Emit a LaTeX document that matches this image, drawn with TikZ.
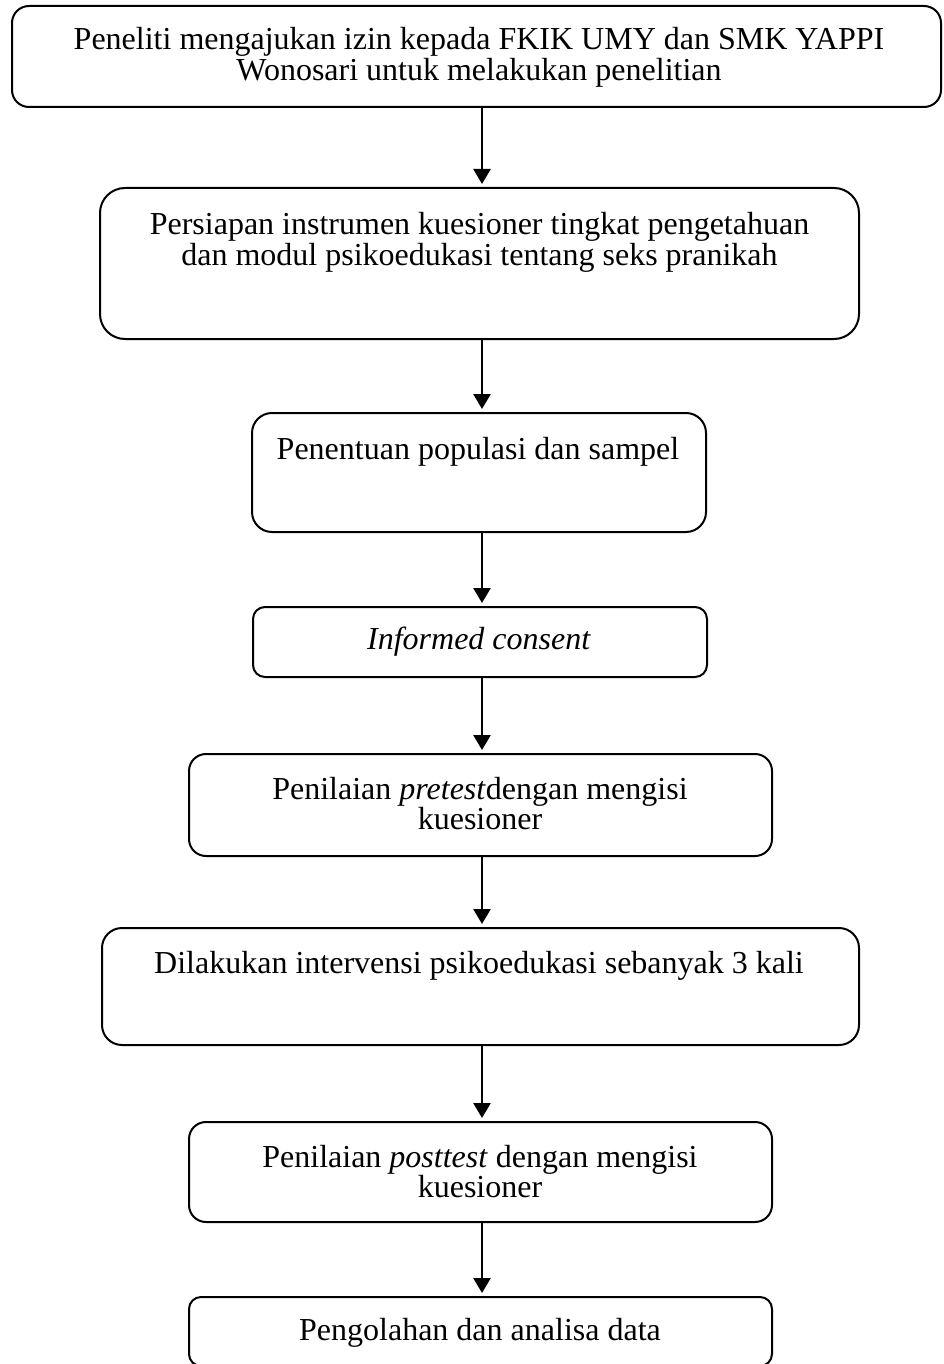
\documentclass[tikz,border=0pt]{standalone}
\usepackage{fontspec}
\setmainfont{Liberation Serif}
\usetikzlibrary{arrows.meta}
\tikzset{
  stepbox/.style={draw=black, line width=2pt, inner sep=0pt, fill=none},
  txt/.style={anchor=base, inner sep=0pt, font=\fontsize{32}{28.5}\selectfont},
  arr/.style={line width=2.6pt, shorten >=3pt, -{Triangle[length=15pt,width=17pt]}}
}
\newcommand{\twolines}[2]{\begin{tabular}[t]{@{}c@{}}#1\\#2\end{tabular}}
\begin{document}
\begin{tikzpicture}[x=1pt,y=-1pt]
\fill[white] (0,0) rectangle (943,1364);
\useasboundingbox (0,0) rectangle (943,1364);
\coordinate (ax) at (482,0);
% boxes
\node[stepbox, rounded corners=17pt, minimum width=929pt, minimum height=101pt] (b1) at (476.5,56.5) {};
\node[stepbox, rounded corners=25pt, minimum width=759pt, minimum height=151pt] (b2) at (479.5,263.5) {};
\node[stepbox, rounded corners=20pt, minimum width=454pt, minimum height=119pt] (b3) at (479,472.5) {};
\node[stepbox, rounded corners=12pt, minimum width=454pt, minimum height=70pt] (b4) at (480,642) {};
\node[stepbox, rounded corners=17pt, minimum width=583pt, minimum height=102pt] (b5) at (480.5,805) {};
\node[stepbox, rounded corners=20pt, minimum width=757pt, minimum height=117pt] (b6) at (480.5,986.5) {};
\node[stepbox, rounded corners=17pt, minimum width=583pt, minimum height=100pt] (b7) at (480.5,1172) {};
\node[stepbox, rounded corners=12pt, minimum width=583pt, minimum height=69pt] (b8) at (480.5,1331.5) {};
% texts
\node[txt] (t1) at (479,50) {\twolines{Peneliti mengajukan izin kepada FKIK UMY dan SMK YAPPI}{Wonosari untuk melakukan penelitian}};
\node[txt] (t2) at (479.5,235) {\twolines{Persiapan instrumen kuesioner tingkat pengetahuan}{dan modul psikoedukasi tentang seks pranikah}};
\node[txt] (t3) at (478,459) {Penentuan populasi dan sampel};
\node[txt] (t4) at (479,649) {\textit{Informed consent}};
\node[txt] (t5) at (480,799) {\twolines{Penilaian \textit{pretest}dengan mengisi}{kuesioner}};
\node[txt] (t6) at (479,973) {Dilakukan intervensi psikoedukasi sebanyak 3 kali};
\node[txt] (t7) at (480,1167) {\twolines{Penilaian \textit{posttest} dengan mengisi}{kuesioner}};
\node[txt] (t8) at (480,1340) {Pengolahan dan analisa data};
% arrows
\draw[arr] (b1.south -| ax) -- (b2.north -| ax);
\draw[arr] (b2.south -| ax) -- (b3.north -| ax);
\draw[arr] (b3.south -| ax) -- (b4.north -| ax);
\draw[arr] (b4.south -| ax) -- (b5.north -| ax);
\draw[arr] (b5.south -| ax) -- (b6.north -| ax);
\draw[arr] (b6.south -| ax) -- (b7.north -| ax);
\draw[arr] (b7.south -| ax) -- (b8.north -| ax);
\end{tikzpicture}
\end{document}
